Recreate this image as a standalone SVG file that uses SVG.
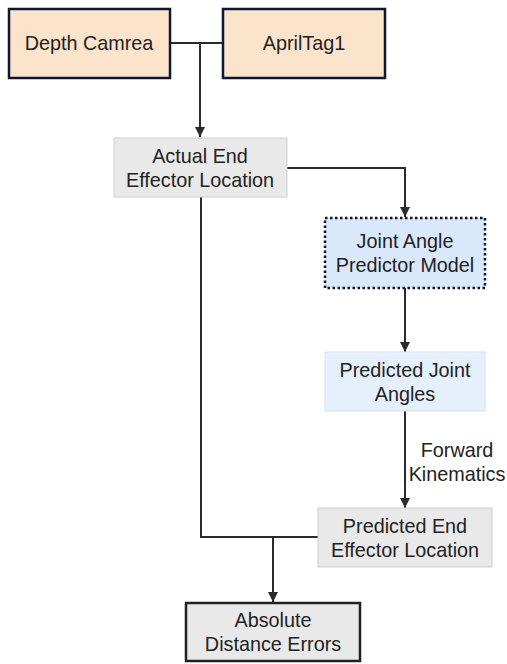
<svg xmlns="http://www.w3.org/2000/svg" width="507" height="664" viewBox="0 0 507 664">
<defs>
<marker id="arr" viewBox="0 0 10 10" refX="10" refY="5" markerWidth="10" markerHeight="10" markerUnits="userSpaceOnUse" orient="auto">
<path d="M0,0 L10,5 L0,10 z" fill="#2b2b2b"/>
</marker>
<style>
text{font-family:"Liberation Sans",Arial,sans-serif;font-size:19.8px;fill:#222;text-anchor:middle}
.src{fill:#fce4cc;stroke:#0f1630;stroke-width:2.5}
.gray{fill:#e9e9e9;stroke:#cfcfcf;stroke-width:1}
.model{fill:#dae8fc;stroke:#0f1630;stroke-width:2.5;stroke-dasharray:2.5 2.5}
.pred{fill:#e6f0fc;stroke:#d8e2ee;stroke-width:1}
.out{fill:#e9e9e9;stroke:#222;stroke-width:2.5}
.c{fill:none;stroke:#2b2b2b;stroke-width:2}
</style>
</defs>
<rect width="507" height="664" fill="#fff"/>
<g id="connectors">
<path class="c" d="M170,43 H223"/>
<path class="c" d="M200,43 V137" marker-end="url(#arr)"/>
<path class="c" d="M287,168 H405 V217" marker-end="url(#arr)"/>
<path class="c" d="M405,288 V352" marker-end="url(#arr)"/>
<path class="c" d="M405,411 V508" marker-end="url(#arr)"/>
<path class="c" d="M201,197 V537 H318"/>
<path class="c" d="M273,537 V602" marker-end="url(#arr)"/>
<text x="457" y="457">Forward</text>
<text x="457" y="481">Kinematics</text>
</g>
<g id="depth">
<rect class="src" x="9" y="9" width="161" height="69"/>
<text x="89" y="50">Depth Camrea</text>
</g>
<g id="apriltag">
<rect class="src" x="223" y="9" width="162" height="69"/>
<text x="304" y="50">AprilTag1</text>
</g>
<g id="actual">
<rect class="gray" x="114" y="138" width="173" height="59"/>
<text x="200" y="163">Actual End</text>
<text x="200" y="187">Effector Location</text>
</g>
<g id="model">
<rect class="model" x="325" y="218" width="160" height="70"/>
<text x="405" y="248">Joint Angle</text>
<text x="405" y="272">Predictor Model</text>
</g>
<g id="predangles">
<rect class="pred" x="325" y="352" width="160" height="59"/>
<text x="405" y="377">Predicted Joint</text>
<text x="405" y="401">Angles</text>
</g>
<g id="predend">
<rect class="gray" x="318" y="508" width="174" height="59"/>
<text x="405" y="533">Predicted End</text>
<text x="405" y="557">Effector Location</text>
</g>
<g id="errors">
<rect class="out" x="186" y="603" width="174" height="58"/>
<text x="273" y="627">Absolute</text>
<text x="273" y="651">Distance Errors</text>
</g>
</svg>
